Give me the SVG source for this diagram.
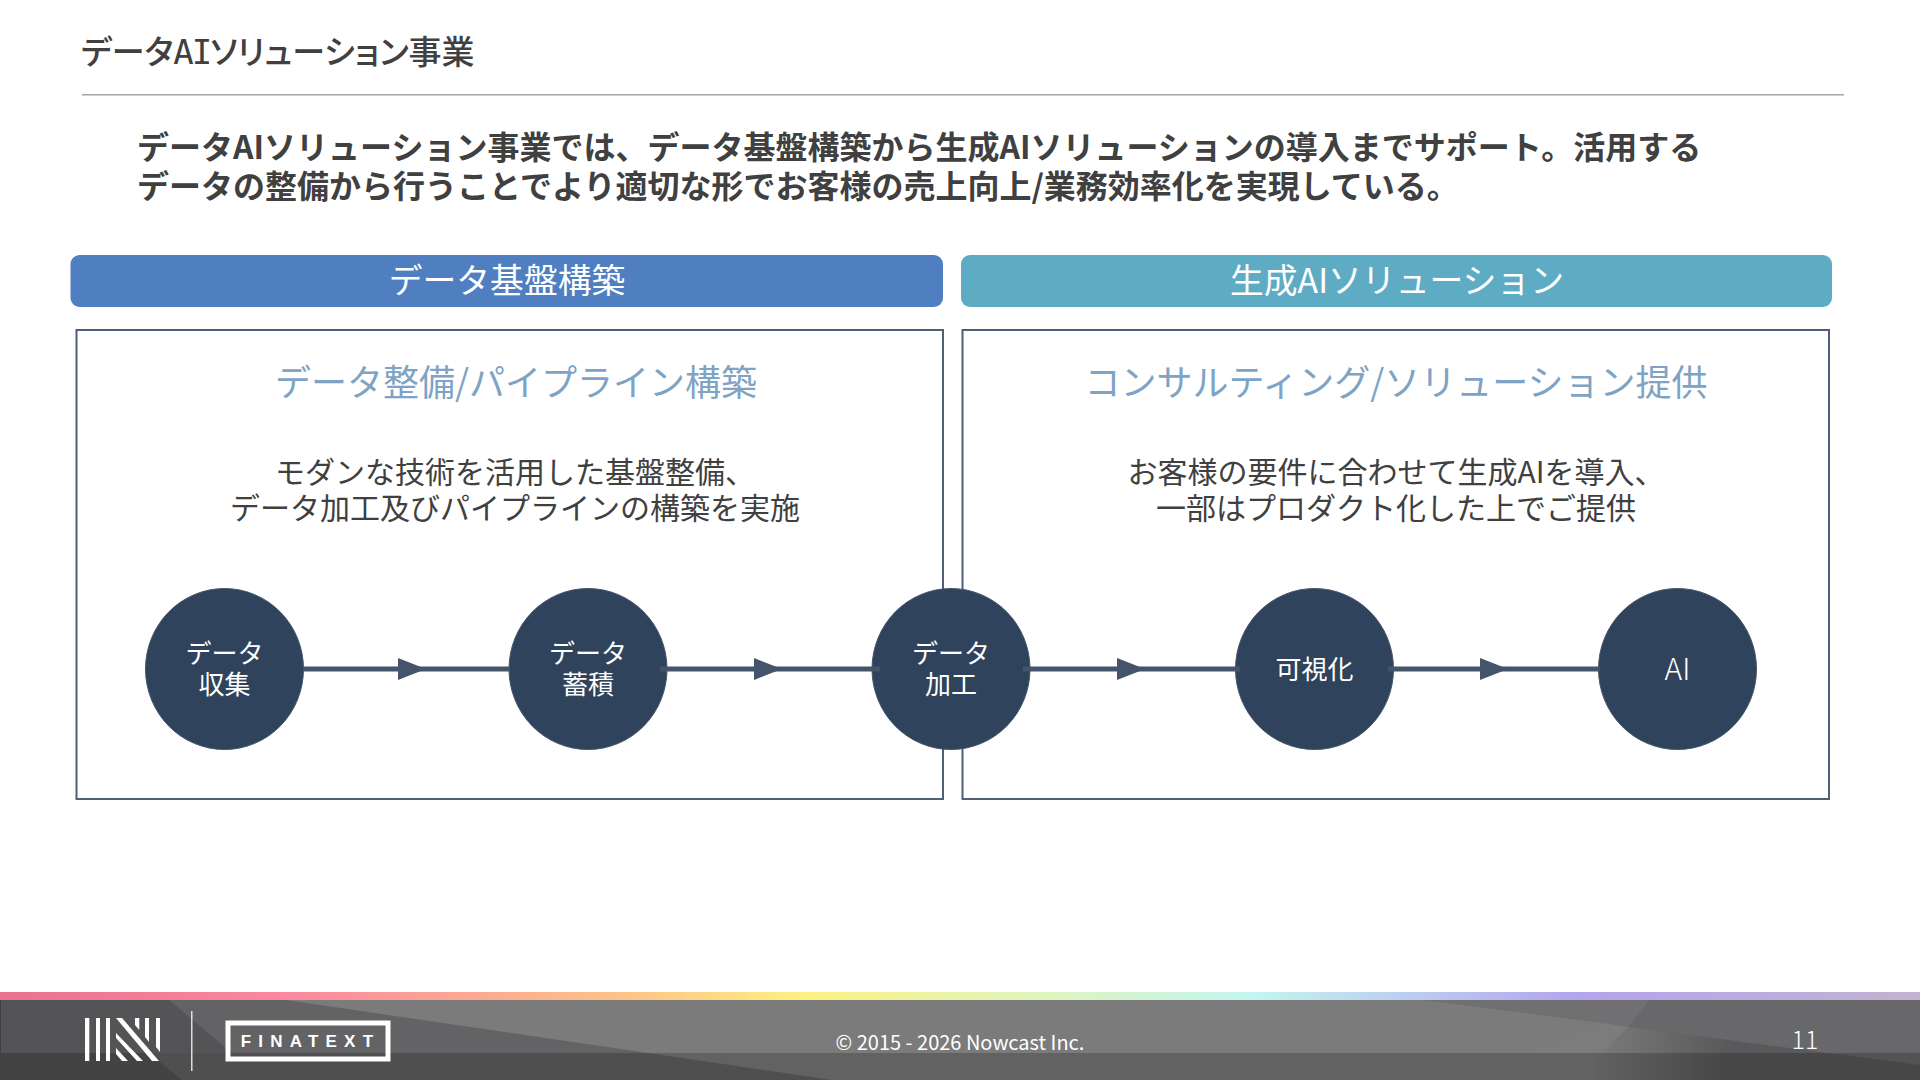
<svg xmlns="http://www.w3.org/2000/svg" width="1920" height="1080" viewBox="0 0 1920 1080">
<defs>
<style>
text{font-family:"Noto Sans CJK JP","Noto Sans",sans-serif;text-anchor:middle}
.box{fill:none;stroke:#4f5f78;stroke-width:2}
.n{fill:#2f435c;stroke:#44546a;stroke-width:1}
.nt{fill:#fff;font-size:26px}
.sub{fill:#7ea3c4;font-size:36px}
.body{fill:#404040;font-size:30px}
.lead{fill:#404040;font-size:32px;font-weight:700;text-anchor:start}
.hd{fill:#fff;font-size:33.8px}
.conn{stroke:#44546a;stroke-width:5;fill:none}
.ah{fill:#44546a}
</style>
<linearGradient id="rb" x1="0" x2="1" y1="0" y2="0">
<stop offset="0" stop-color="#e8728f"/><stop offset=".15" stop-color="#fb88a0"/><stop offset=".33" stop-color="#fdc586"/><stop offset=".42" stop-color="#fdf283"/><stop offset=".65" stop-color="#c4f6f0"/><stop offset=".82" stop-color="#b3a4ee"/><stop offset="1" stop-color="#c4b2d0"/>
</linearGradient>
<linearGradient id="fr" x1="0" x2="1" y1="0" y2="0">
<stop offset="0" stop-color="#7b7b7b"/><stop offset=".83" stop-color="#7b7b7b"/><stop offset=".9" stop-color="#59595b"/><stop offset="1" stop-color="#59595b"/>
</linearGradient>
</defs>
<rect width="1920" height="1080" fill="#fff"/>
<g id="header">
<text x="81" y="64" style="text-anchor:start;font-size:33px;fill:#404040;font-weight:500;font-feature-settings:'palt'">データ<tspan style="font-family:'DejaVu Sans Mono',monospace;font-size:34px;letter-spacing:-2px">AI</tspan>ソリューション事業</text>
<rect x="82" y="94" width="1762" height="1.500" fill="#a6a6a6"/>
</g>
<g id="lead">
<text class="lead" x="137" y="159">データAIソリューション事業では、データ基盤構築から生成AIソリューションの導入までサポート。活用する</text>
<text class="lead" x="137" y="198">データの整備から行うことでより適切な形でお客様の売上向上/業務効率化を実現している。</text>
</g>
<g id="bar-left"><rect x="70.500" y="255" width="872.500" height="52" rx="9" fill="#4f7fc0"/><text class="hd" x="507" y="292.500">データ基盤構築</text></g>
<g id="bar-right"><rect x="961" y="255" width="871" height="52" rx="9" fill="#5eacc4"/><text class="hd" x="1397" y="292.500">生成AIソリューション</text></g>
<g id="box-left"><rect class="box" x="76.500" y="330" width="866.500" height="469"/>
<text class="sub" x="516" y="395.500">データ整備/パイプライン構築</text>
<text class="body" x="515" y="483">モダンな技術を活用した基盤整備、</text>
<text class="body" x="515" y="519">データ加工及びパイプラインの構築を実施</text></g>
<g id="box-right"><rect class="box" x="962.500" y="330" width="866.500" height="469"/>
<text class="sub" x="1396" y="395.500">コンサルティング/ソリューション提供</text>
<text class="body" x="1396" y="483">お客様の要件に合わせて生成AIを導入、</text>
<text class="body" x="1396" y="519">一部はプロダクト化した上でご提供</text></g>
<g id="n1"><ellipse class="n" cx="224.500" cy="669" rx="79" ry="80.500"/><text class="nt" x="224.500" y="663">データ</text><text class="nt" x="224.500" y="694">収集</text></g>
<g id="n2"><ellipse class="n" cx="588" cy="669" rx="79" ry="80.500"/><text class="nt" x="588" y="663">データ</text><text class="nt" x="588" y="694">蓄積</text></g>
<g id="n3"><ellipse class="n" cx="951" cy="669" rx="79" ry="80.500"/><text class="nt" x="951" y="663">データ</text><text class="nt" x="951" y="694">加工</text></g>
<g id="n4"><ellipse class="n" cx="1314.500" cy="669" rx="79" ry="80.500"/><text class="nt" x="1314.500" y="679">可視化</text></g>
<g id="n5"><ellipse class="n" cx="1677.500" cy="669" rx="79" ry="80.500"/><text class="nt" x="1677.500" y="680" style="font-size:30px;font-weight:300">AI</text></g>
<g id="connectors">
<path class="conn" d="M303 669H510M660 669H880M1023 669H1240M1388 669H1600"/>
<path class="ah" d="M398 658L426 669L398 680ZM754 658L782 669L754 680ZM1117 658L1145 669L1117 680ZM1480 658L1508 669L1480 680Z"/>
</g>
<g id="footer">
<rect y="992" width="1920" height="8" fill="url(#rb)"/>
<rect y="1000" width="1920" height="80" fill="url(#fr)"/>
<path d="M0 1000H286L832 1080H0Z" fill="#636365"/>
<path d="M0 1000H169L232 1053L149 1053L182 1080H0Z" fill="#545456"/>
<path d="M1649 1000H1920V1065L1628 1027Z" fill="#68686a"/>
<path d="M1423 1000H1649L1628 1027L1602 1023Z" fill="#707072"/>
<path d="M1602 1023L1628 1027L1602 1053H1525Z" fill="#7c7c7c"/>
<rect y="1053" width="1920" height="27" fill="#000" opacity=".2"/>
<rect x="0" y="1000" width="1" height="53" fill="#3f3f41"/>
<g fill="#fff">
<rect x="85" y="1018" width="4.300" height="43"/><rect x="96" y="1018" width="4" height="43"/><rect x="106" y="1018" width="4" height="43"/>
<path d="M116 1018H122L159 1061H152ZM116 1033L143 1061H137L116 1038ZM116 1048L128 1061H122L116 1054ZM135 1018H139.300V1030L135 1025ZM145 1018H149V1042L145 1037ZM156 1018H160V1052L156 1047Z"/>
<rect x="191" y="1011" width="1.500" height="60" fill="#ddd"/>
</g>
<rect x="228" y="1023" width="160" height="36" fill="none" stroke="#fff" stroke-width="5"/>
<text x="310.500" y="1047" style="fill:#fff;font-size:17px;font-weight:700;letter-spacing:7.200px;font-family:'Liberation Sans',sans-serif">FINATEXT</text>
<text x="960" y="1050" style="fill:#fff;font-size:20px">© 2015 - 2026 Nowcast Inc.</text>
<text x="1805" y="1049" style="fill:#fff;font-size:25px;font-weight:300">11</text>
</g>
</svg>
